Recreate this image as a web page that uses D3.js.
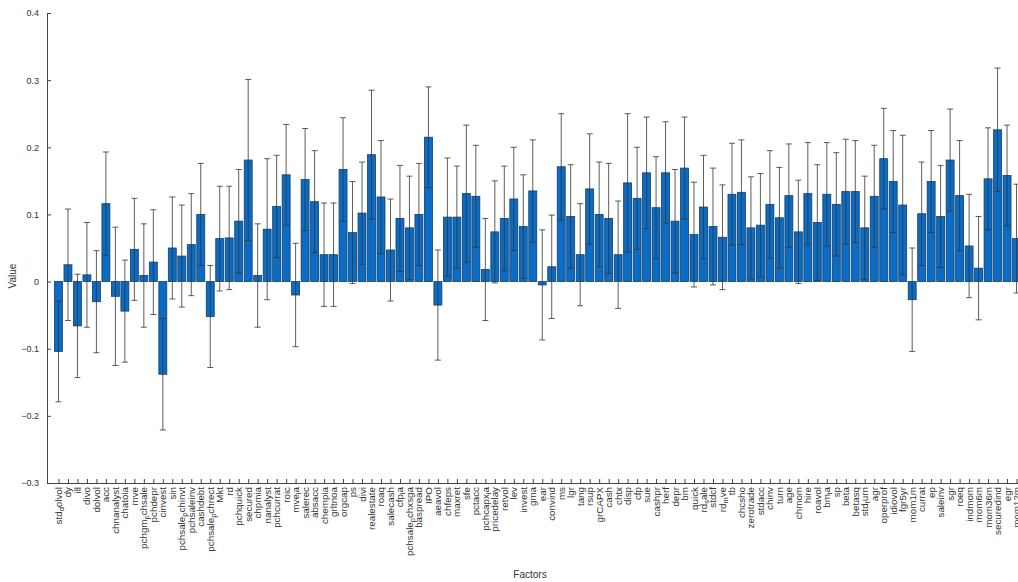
<!DOCTYPE html>
<html>
<head>
<meta charset="utf-8">
<script src="https://d3js.org/d3.v7.min.js"></script>
<style>
  body { margin: 0; background: #fff; }
  svg { display: block; font-family: "Liberation Sans", Arial, sans-serif; }
</style>
</head>
<body>
<script>
// factor names, bar values and half-length of error bars
var factors = ["std_dolvol","dy","ill","divo","dolvol","acc","chnanalyst","chatoia","mve","pchgm_pchsale",
  "pchdepr","cinvest","sin","pchsale_pchinvt","pchsaleinv","cashdebt","pchsale_pchrect","Mkt","rd","pchquick",
  "secured","chpmia","nanalyst","pchcurrat","roic","mve_ia","salerec","absacc","chempia","grltnoa",
  "orgcap","ps","divi","realestate","roaq","salecash","cfp_ia","pchsale_pchxsga","baspread","IPO",
  "aeavol","chfeps","maxret","sfe","pctacc","pchcapx_ia","pricedelay","retvol","lev","invest",
  "gma","ear","convind","ms","lgr","tang","rsup","grCAPX","cash","chtx",
  "disp","cfp","sue","cashpr","herf","depr","bm","quick","rd_sale","stdcf",
  "rd_mve","tb","chcsho","zerotrade","stdacc","chinv","turn","age","chmom","hire",
  "roavol","bm_ia","sp","beta","betasq","std_turn","agr","operprof","idiovol","fgr5yr",
  "mom1m","currat","ep","saleinv","sgr","roeq","indmom","mom6m","mom36m","securedind",
  "egr","mom12m"];

var values = [-0.104,0.025,-0.066,0.010,-0.030,0.116,-0.022,-0.044,0.048,0.009,
  0.029,-0.138,0.050,0.038,0.055,0.100,-0.052,0.064,0.065,0.090,
  0.181,0.009,0.078,0.112,0.159,-0.020,0.152,0.119,0.040,0.040,
  0.167,0.073,0.102,0.189,0.126,0.047,0.094,0.080,0.100,0.215,
  -0.035,0.096,0.096,0.131,0.127,0.018,0.074,0.094,0.123,0.082,
  0.135,-0.005,0.022,0.171,0.097,0.040,0.138,0.100,0.094,0.040,
  0.147,0.124,0.162,0.110,0.162,0.090,0.169,0.070,0.111,0.082,
  0.066,0.130,0.133,0.080,0.084,0.115,0.095,0.128,0.074,0.131,
  0.088,0.130,0.115,0.134,0.134,0.080,0.127,0.183,0.149,0.114,
  -0.027,0.101,0.149,0.097,0.181,0.128,0.053,0.020,0.153,0.226,
  0.158,0.064];

var errors = [0.075,0.083,0.077,0.078,0.076,0.077,0.103,0.076,0.076,0.077,
  0.078,0.083,0.076,0.076,0.076,0.076,0.076,0.078,0.077,0.077,
  0.120,0.077,0.105,0.076,0.075,0.077,0.076,0.076,0.077,0.077,
  0.077,0.076,0.076,0.096,0.084,0.076,0.079,0.077,0.076,0.075,
  0.082,0.088,0.076,0.102,0.076,0.076,0.076,0.078,0.077,0.077,
  0.076,0.082,0.077,0.079,0.077,0.076,0.082,0.078,0.082,0.080,
  0.103,0.076,0.083,0.076,0.076,0.077,0.076,0.078,0.077,0.087,
  0.078,0.076,0.078,0.076,0.077,0.080,0.075,0.077,0.077,0.076,
  0.086,0.077,0.077,0.078,0.076,0.077,0.076,0.075,0.076,0.104,
  0.077,0.077,0.076,0.076,0.076,0.082,0.077,0.077,0.076,0.092,
  0.075,0.081];

var yTicks = [-0.3,-0.2,-0.1,0,0.1,0.2,0.3,0.4];

var W = 1018, H = 582;
var mLeft = 47, mTop = 13, mBottom = 483;

var svg = d3.select("body").append("svg").attr("width", W).attr("height", H);
svg.append("rect").attr("width", W).attr("height", H).attr("fill", "#fff");

// the plot runs off the right edge of the picture, like the reference
var x = d3.scalePoint().domain(factors).range([mLeft, 1028]).padding(1.21);
var bw = x.step() * 0.84;
var y = d3.scaleLinear().domain([-0.3, 0.4]).range([mBottom, mTop]);

var data = factors.map(function(f, i){ return {f: f, v: values[i], e: errors[i]}; });

// bars
svg.selectAll("rect.bar").data(data).enter().append("rect")
  .attr("class", "bar")
  .attr("x", function(d){ return x(d.f) - bw/2; })
  .attr("width", bw)
  .attr("y", function(d){ return y(Math.max(0, d.v)); })
  .attr("height", function(d){ return Math.abs(y(d.v) - y(0)); })
  .attr("fill", "#0a6cc4")
  .attr("stroke", "#153e66")
  .attr("stroke-width", 0.8);

// error bars
var eb = svg.selectAll("g.err").data(data).enter().append("g").attr("class", "err")
  .attr("stroke", "#333").attr("stroke-width", 0.8);
eb.append("line")
  .attr("x1", function(d){ return x(d.f); }).attr("x2", function(d){ return x(d.f); })
  .attr("y1", function(d){ return y(d.v + d.e); }).attr("y2", function(d){ return y(d.v - d.e); });
eb.append("line")
  .attr("x1", function(d){ return x(d.f) - 3; }).attr("x2", function(d){ return x(d.f) + 3; })
  .attr("y1", function(d){ return y(d.v + d.e); }).attr("y2", function(d){ return y(d.v + d.e); });
eb.append("line")
  .attr("x1", function(d){ return x(d.f) - 3; }).attr("x2", function(d){ return x(d.f) + 3; })
  .attr("y1", function(d){ return y(d.v - d.e); }).attr("y2", function(d){ return y(d.v - d.e); });

// y axis, ticks point inwards
var yAxis = svg.append("g").attr("transform", "translate(" + mLeft + ",0)")
  .call(d3.axisLeft(y).tickValues(yTicks).tickSize(-4).tickSizeOuter(0).tickPadding(8)
    .tickFormat(function(d){ return d === 0 ? "0" : d3.format(".1f")(d); }));
yAxis.select(".domain").attr("stroke", "#444");
yAxis.selectAll(".tick line").attr("stroke", "#444");
yAxis.selectAll("text").attr("fill", "#333").style("font-size", "9px");

// x axis
var xAxis = svg.append("g").attr("transform", "translate(0," + mBottom + ")")
  .call(d3.axisBottom(x).tickSize(-4).tickSizeOuter(0).tickFormat(""));
xAxis.select(".domain").attr("stroke", "#444");
xAxis.selectAll(".tick line").attr("stroke", "#444");

// rotated factor labels, "_" makes the next letter a subscript (TeX style)
var lab = svg.selectAll("text.fl").data(factors).enter().append("text")
  .attr("class", "fl")
  .attr("transform", function(d){ return "translate(" + (x(d) + 3.5) + "," + (mBottom + 4) + ") rotate(-90)"; })
  .attr("text-anchor", "end")
  .attr("fill", "#333")
  .style("font-size", "9.8px");
lab.each(function(d){
  var t = d3.select(this);
  var parts = d.split("_");
  t.append("tspan").text(parts[0]);
  for (var k = 1; k < parts.length; k++) {
    t.append("tspan").attr("dy", 2).style("font-size", "7.5px").text(parts[k].charAt(0));
    t.append("tspan").attr("dy", -2).text(parts[k].slice(1));
  }
});

svg.append("text").attr("transform", "translate(16,276) rotate(-90)")
  .attr("text-anchor", "middle").attr("fill", "#333").style("font-size", "10px").text("Value");
svg.append("text").attr("x", 530).attr("y", 578)
  .attr("text-anchor", "middle").attr("fill", "#333").style("font-size", "10px").text("Factors");
</script>
</body>
</html>
